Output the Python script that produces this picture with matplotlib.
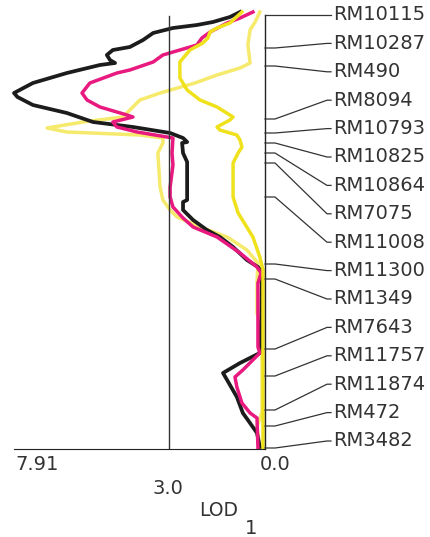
import matplotlib.pyplot as plt
import matplotlib.transforms as mtransforms

# marker names and their positions along the chromosome (top = 0)
markers = ['RM10115', 'RM10287', 'RM490', 'RM8094', 'RM10793', 'RM10825',
           'RM10864', 'RM7075', 'RM11008', 'RM11300', 'RM1349', 'RM7643',
           'RM11757', 'RM11874', 'RM472', 'RM3482']
marker_pos = [3, 36, 54, 107, 121, 131, 141, 151, 185, 252, 267, 337,
              364, 398, 414, 436]

# LOD profiles (position, LOD)
black_pos = [0, 5, 10, 13, 16, 21, 28, 35, 38, 43, 48, 51, 53, 61, 71, 81, 85,
             93, 101, 110, 115, 121, 126, 130, 131, 141, 150, 188, 190, 198,
             208, 218, 225, 235, 248, 255, 260, 300, 341, 351, 361, 368, 385,
             401, 408, 421, 435]
black_lod = [0.73, 1.05, 1.59, 2.10, 2.86, 3.49, 3.81, 4.23, 4.77, 4.96, 4.86,
             4.70, 5.18, 6.23, 7.31, 7.91, 7.80, 7.31, 6.23, 5.40, 4.13, 2.95,
             2.54, 2.41, 2.57, 2.54, 2.41, 2.41, 2.54, 2.54, 2.22, 1.78, 1.37,
             0.95, 0.51, 0.16, 0.03, 0.05, 0.10, 0.73, 1.27, 1.14, 0.83, 0.64,
             0.48, 0.19, 0.10]

pink_pos = [0, 6, 11, 20, 26, 33, 38, 43, 50, 58, 61, 71, 81, 88, 95, 103,
            105, 110, 115, 120, 125, 126, 141, 153, 175, 185, 195, 206, 215,
            225, 241, 255, 261, 271, 335, 341, 358, 365, 375, 391, 401, 406,
            436]
pink_lod = [0.32, 0.73, 1.14, 1.68, 1.94, 2.10, 2.64, 3.18, 3.49, 4.23, 4.64,
            5.50, 5.75, 5.59, 5.18, 4.32, 4.13, 4.77, 4.64, 4.00, 3.05, 2.86,
            2.89, 2.86, 2.95, 2.95, 2.86, 2.54, 2.22, 1.46, 0.73, 0.19, 0.06,
            0.16, 0.16, 0.10, 0.64, 0.89, 0.83, 0.67, 0.41, 0.19, 0.16]

pale_pos = [0, 10, 18, 33, 51, 56, 63, 71, 81, 88, 98, 105, 110, 116, 120,
            123, 126, 131, 141, 175, 188, 198, 205, 215, 225, 238, 251, 271,
            301, 320, 400, 415, 435]
pale_lod = [0.10, 0.25, 0.41, 0.48, 0.41, 0.73, 1.46, 2.16, 3.27, 3.91, 4.23,
            4.45, 5.72, 6.86, 6.23, 3.91, 3.18, 3.18, 3.34, 3.27, 3.18, 2.95,
            2.73, 2.00, 1.14, 0.51, 0.16, 0.19, 0.19, 0.03, 0.03, 0.19, 0.10]

yellow_pos = [0, 11, 16, 20, 26, 31, 38, 50, 66, 78, 88, 95, 105, 108, 115,
              118, 123, 128, 135, 141, 151, 185, 201, 225, 245, 258, 436]
yellow_lod = [0.67, 1.05, 1.46, 1.68, 1.75, 1.91, 2.32, 2.64, 2.64, 2.41,
              2.00, 1.46, 0.95, 1.05, 1.46, 1.37, 0.83, 0.73, 0.67, 0.79,
              0.95, 0.95, 0.79, 0.32, 0.10, 0.0, 0.0]

lod_max = 7.91
threshold = 3.0

fig = plt.figure(figsize=(4.31, 5.37), dpi=100)
ax = fig.add_axes([14 / 431, 88 / 537, 251 / 431, 437 / 537])
ax.set_xlim(lod_max, -0.064)
ax.set_ylim(437, 0)

ax.plot(pale_lod, pale_pos, color='#f6ea6c', lw=2.5, clip_on=False)
ax.plot(black_lod, black_pos, color='#1c1c1c', lw=2.7, clip_on=False)
ax.plot(pink_lod, pink_pos, color='#e8197f', lw=2.5, clip_on=False)
ax.plot(yellow_lod, yellow_pos, color='#efe21c', lw=2.5, clip_on=False)

# threshold line and chromosome axis
ax.plot([threshold, threshold], [4, 437], color='#333333', lw=1)
ax.plot([-0.064, -0.064], [3, 437], color='#222222', lw=1, clip_on=False)

for s in ['top', 'left', 'right']:
    ax.spines[s].set_visible(False)
ax.spines['bottom'].set_color('#222222')
ax.set_xticks([])
ax.set_yticks([])

# marker ticks, connectors and labels
trans = mtransforms.blended_transform_factory(fig.transFigure, ax.transData)
gap = (429 - marker_pos[0]) / (len(markers) - 1)
for i, (name, p) in enumerate(zip(markers, marker_pos)):
    ly = marker_pos[0] + i * gap
    ax.plot([265 / 431, 275 / 431, 327 / 431, 331 / 431], [p, p, ly, ly],
            color='#333333', lw=0.9, transform=trans, clip_on=False)
    ax.text(333 / 431, ly, name, transform=trans, fontsize=14,
            color='#333333', va='center', ha='left')

fig.text(15 / 431, 1 - 465 / 537, '7.91', fontsize=14, color='#333333',
         va='center', ha='left')
fig.text(260 / 431, 1 - 465 / 537, '0.0', fontsize=14, color='#333333',
         va='center', ha='left')
fig.text(168 / 431, 1 - 488 / 537, '3.0', fontsize=14, color='#333333',
         va='center', ha='center')
fig.text(219 / 431, 1 - 510 / 537, 'LOD', fontsize=13.5, color='#333333',
         va='center', ha='center')
fig.text(251 / 431, 1 - 528 / 537, '1', fontsize=14, color='#333333',
         va='center', ha='center')

fig.savefig('out.png', dpi=100)
